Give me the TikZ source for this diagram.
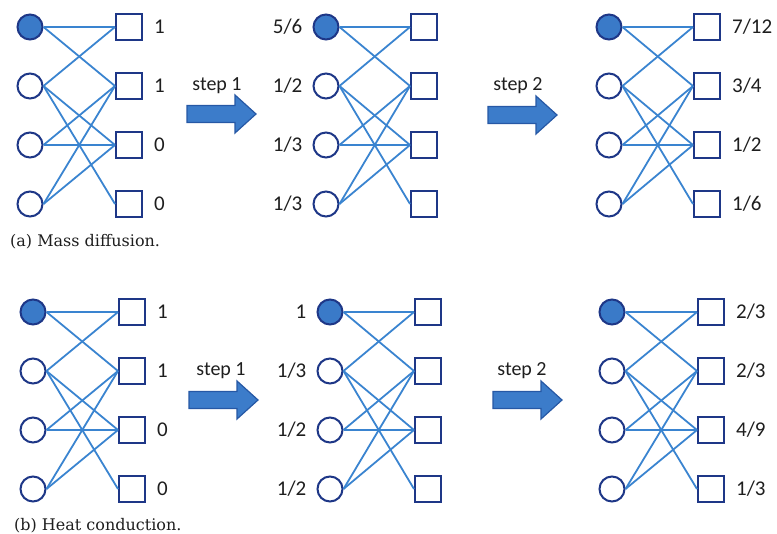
\documentclass[tikz,border=0pt]{standalone}
\usepackage{fontspec}
\setmainfont{Carlito}
\newfontfamily\capfont{DejaVu Serif}
\usetikzlibrary{positioning}
\definecolor{navyline}{RGB}{30,55,135}
\definecolor{nodefill}{RGB}{58,122,200}
\definecolor{edgeblue}{RGB}{58,132,208}
\definecolor{arrowfill}{RGB}{60,124,202}
\definecolor{arrowline}{RGB}{38,88,165}
\definecolor{textgray}{RGB}{30,30,30}
\tikzset{
  objnode/.style={circle, draw=navyline, line width=2pt, minimum size=25pt, inner sep=0pt},
  objfill/.style={objnode, fill=nodefill},
  usrnode/.style={rectangle, draw=navyline, line width=2pt, minimum size=26pt, inner sep=0pt},
  edge/.style={draw=edgeblue, line width=1.8pt},
  lab/.style={font=\fontsize{21}{25}\selectfont, text=textgray, inner sep=0pt},
  steplab/.style={font=\fontsize{20}{24}\selectfont, text=textgray, inner sep=0pt},
  caplab/.style={font=\capfont\fontsize{16}{19}\selectfont, text=textgray, inner sep=0pt, anchor=west},
  bigarrow/.pic={\filldraw[fill=arrowfill, draw=arrowline, line width=1.2pt, line join=miter]
    (0,-8.5) -- (48,-8.5) -- (48,-19) -- (69,0) -- (48,19) -- (48,8.5) -- (0,8.5) -- cycle;}
}
% #1 name, #2 circle x, #3 square x, #4 first row y
\newcommand\drawpanel[4]{%
  \foreach \i/\st in {1/objfill,2/objnode,3/objnode,4/objnode}{
    \node[\st] (#1c\i) at (#2, {#4+59*(\i-1)}) {};
    \node[usrnode] (#1s\i) at (#3, {#4+59*(\i-1)}) {};
  }
  \foreach \a/\b in {1/1,1/2,2/1,2/3,2/4,3/2,3/3,4/2,4/3}{
    \draw[edge] (#1c\a.east) -- (#1s\b.west);
  }
}
\begin{document}
\begin{tikzpicture}[x=1pt,y=-1pt]
\useasboundingbox (0,0) rectangle (777,534);

% ---------- (a) Mass diffusion ----------
\drawpanel{A}{30}{129}{27}
\node[lab, right=11pt of As1] (Al1) {1};
\node[lab, right=11pt of As2] (Al2) {1};
\node[lab, right=11pt of As3] (Al3) {0};
\node[lab, right=11pt of As4] (Al4) {0};

\drawpanel{B}{326}{424}{27}
\node[lab, left=10pt of Bc1] (Bl1) {5/6};
\node[lab, left=10pt of Bc2] (Bl2) {1/2};
\node[lab, left=10pt of Bc3] (Bl3) {1/3};
\node[lab, left=10pt of Bc4] (Bl4) {1/3};

\drawpanel{C}{609}{707}{27}
\node[lab, right=11pt of Cs1] (Cl1) {7/12};
\node[lab, right=11pt of Cs2] (Cl2) {3/4};
\node[lab, right=11pt of Cs3] (Cl3) {1/2};
\node[lab, right=11pt of Cs4] (Cl4) {1/6};

\node[steplab] (Astep1) at (217,86) {step 1};
\pic at (187,114) {bigarrow};
\node[steplab] (Astep2) at (518,86) {step 2};
\pic at (488,115) {bigarrow};

\node[caplab] (Acap) at (10,242) {(a) Mass diffusion.};

% ---------- (b) Heat conduction ----------
\drawpanel{D}{33}{132}{312}
\node[lab, right=11pt of Ds1] (Dl1) {1};
\node[lab, right=11pt of Ds2] (Dl2) {1};
\node[lab, right=11pt of Ds3] (Dl3) {0};
\node[lab, right=11pt of Ds4] (Dl4) {0};

\drawpanel{E}{330}{428}{312}
\node[lab, left=10pt of Ec1] (El1) {1};
\node[lab, left=10pt of Ec2] (El2) {1/3};
\node[lab, left=10pt of Ec3] (El3) {1/2};
\node[lab, left=10pt of Ec4] (El4) {1/2};

\drawpanel{F}{612}{711}{312}
\node[lab, right=11pt of Fs1] (Fl1) {2/3};
\node[lab, right=11pt of Fs2] (Fl2) {2/3};
\node[lab, right=11pt of Fs3] (Fl3) {4/9};
\node[lab, right=11pt of Fs4] (Fl4) {1/3};

\node[steplab] (Dstep1) at (221,371) {step 1};
\pic at (189,400) {bigarrow};
\node[steplab] (Dstep2) at (522,371) {step 2};
\pic at (493,400) {bigarrow};

\node[caplab] (Dcap) at (14,526) {(b) Heat conduction.};
\end{tikzpicture}
\end{document}
